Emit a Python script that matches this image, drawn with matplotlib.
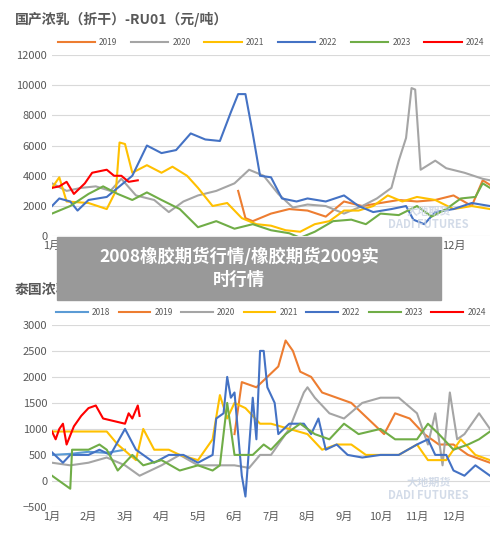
import matplotlib
matplotlib.use("Agg")
import matplotlib.pyplot as plt
from matplotlib.patches import Rectangle

plt.rcParams['font.family'] = ['Noto Sans CJK SC', 'DejaVu Sans']

months = ["1月", "2月", "3月", "4月", "5月", "6月", "7月", "8月", "9月", "10月", "11月", "12月"]
colors = {"2018": "#5B9BD5", "2019": "#ED7D31", "2020": "#A5A5A5", "2021": "#FFC000",
          "2022": "#4472C4", "2023": "#70AD47", "2024": "#FF0000"}

# 国产浓乳（折干）-RU01, x = 月份位置
ru_2019_x = [5.1, 5.3, 5.5, 6.0, 6.5, 7.0, 7.5, 8.0, 8.5, 9.0, 9.5, 10.0, 10.5, 11.0, 11.5, 11.8, 12]
ru_2019_y = [3000, 1200, 1000, 1500, 1800, 1700, 1300, 2300, 2000, 2200, 2400, 2300, 2400, 2700, 2000, 3700, 3400]
ru_2020_x = [0, 0.4, 0.8, 1.2, 1.6, 1.9, 2.3, 2.8, 3.2, 3.6, 4.0, 4.5, 5.0, 5.4, 5.8, 6.2, 6.6, 7.0, 7.5, 8.0,
             8.5, 8.9, 9.3, 9.5, 9.7, 9.85, 9.95, 10.1, 10.5, 10.8, 11.3, 11.8, 12]
ru_2020_y = [3500, 3000, 3200, 3300, 3000, 3800, 2700, 2400, 1600, 2300, 2700, 3000, 3500, 4400, 4000, 2800, 1900,
             2100, 2000, 1500, 2000, 2500, 3200, 5000, 6500, 9800, 9700, 4400, 5000, 4500, 4200, 3800, 3700]
ru_2021_x = [0, 0.2, 0.4, 1.0, 1.5, 1.75, 1.85, 2.0, 2.2, 2.6, 3.0, 3.3, 3.7, 4.0, 4.4, 4.8, 5.2, 5.6, 6.0, 6.4,
             6.8, 7.2, 7.6, 8.0, 8.4, 8.8, 9.2, 9.6, 10.0, 10.5, 11.0, 11.5, 12]
ru_2021_y = [3200, 3900, 2300, 2200, 1800, 3000, 6200, 6100, 4200, 4700, 4200, 4600, 4000, 3200, 2000, 2200, 1200,
             800, 700, 400, 300, 800, 1000, 1700, 1700, 2000, 2700, 2300, 2600, 2400, 1800, 2000, 1800]
ru_2022_x = [0, 0.2, 0.5, 0.7, 1.0, 1.5, 1.8, 2.2, 2.6, 3.0, 3.4, 3.8, 4.2, 4.6, 4.9, 5.1, 5.3, 5.5, 5.7, 6.0,
             6.3, 6.7, 7.0, 7.5, 8.0, 8.4, 8.8, 9.3, 9.7, 9.9, 10.2, 10.5, 11.0, 11.5, 12]
ru_2022_y = [2000, 2500, 2300, 1700, 2400, 2600, 3200, 4000, 6000, 5500, 5700, 6800, 6400, 6300, 8200, 9400, 9400,
             6800, 4000, 3900, 2500, 2300, 2500, 2300, 2700, 2000, 1600, 1800, 2000, 1100, 800, 1600, 1800, 2200, 2000]
ru_2023_x = [0, 0.5, 1.0, 1.4, 1.8, 2.2, 2.6, 3.0, 3.5, 4.0, 4.5, 5.0, 5.5, 6.0, 6.5, 6.8, 7.2, 7.7, 8.2, 8.6,
             9.0, 9.5, 10.0, 10.4, 10.8, 11.2, 11.6, 11.8, 12]
ru_2023_y = [1500, 2000, 2800, 3300, 2800, 2400, 2900, 2400, 1800, 600, 1000, 500, 800, 400, 200, -100, 300, 1000,
             1100, 800, 1500, 1400, 2000, 1300, 1800, 2500, 2600, 3500, 3200]
ru_2024_x = [0, 0.2, 0.4, 0.6, 0.9, 1.1, 1.5, 1.7, 1.9, 2.1, 2.35]
ru_2024_y = [3200, 3300, 3600, 2800, 3500, 4200, 4400, 4000, 4000, 3600, 3700]

# 泰国浓乳-国产浓乳
th_2018_x = [0, 0.5, 1.0, 1.5, 2.0]
th_2018_y = [500, 520, 560, 540, 600]
th_2019_x = [5.0, 5.2, 5.6, 5.9, 6.2, 6.4, 6.6, 6.8, 7.1, 7.4, 7.8, 8.2, 8.5, 8.8, 9.1, 9.4, 9.8, 10.2, 10.6,
             11.0, 11.4, 11.8, 12]
th_2019_y = [900, 1900, 1800, 2000, 2200, 2700, 2500, 2100, 2000, 1700, 1600, 1500, 1300, 1100, 900, 1300, 1200,
             900, 700, 700, 500, 400, 350]
th_2020_x = [0, 0.5, 1.0, 1.5, 2.0, 2.2, 2.4, 3.0, 3.5, 4.0, 4.5, 5.0, 5.4, 5.7, 6.0, 6.2, 6.5, 6.9, 7.0, 7.2,
             7.6, 8.0, 8.5, 9.0, 9.5, 10.0, 10.3, 10.5, 10.7, 10.9, 11.1, 11.3, 11.7, 12]
th_2020_y = [350, 300, 350, 450, 300, 200, 100, 300, 500, 300, 300, 300, 250, 500, 500, 700, 1000, 1700, 1800,
             1600, 1300, 1200, 1500, 1600, 1600, 1300, 700, 1300, 300, 1700, 800, 900, 1300, 1000]
th_2021_x = [0, 1.0, 1.5, 1.8, 2.3, 2.5, 2.8, 3.2, 3.5, 4.0, 4.4, 4.6, 4.8, 5.0, 5.3, 5.7, 6.0, 6.5, 7.0, 7.4,
             7.8, 8.2, 8.6, 9.0, 9.5, 10.0, 10.3, 10.8, 11.2, 11.6, 12]
th_2021_y = [950, 950, 950, 700, 400, 1000, 600, 600, 500, 400, 800, 1650, 1200, 1500, 1400, 1100, 1100, 1000,
             900, 600, 700, 700, 500, 500, 500, 700, 400, 400, 800, 500, 400]
th_2022_x = [0, 0.3, 0.5, 1.0, 1.3, 1.6, 2.0, 2.3, 2.8, 3.2, 3.6, 4.0, 4.4, 4.5, 4.7, 4.8, 4.9, 5.0, 5.2, 5.3,
             5.5, 5.6, 5.7, 5.8, 5.9, 6.1, 6.2, 6.5, 6.9, 7.1, 7.3, 7.5, 7.8, 8.1, 8.5, 9.0, 9.5, 10.0, 10.3,
             10.5, 10.8, 11.0, 11.3, 11.6, 12]
th_2022_y = [550, 350, 500, 500, 600, 500, 1000, 600, 350, 500, 500, 350, 500, 1200, 1300, 2000, 1600, 1700, 100,
             -300, 1600, 800, 2500, 2500, 1800, 1500, 900, 1100, 1100, 900, 1200, 600, 700, 500, 450, 500, 500,
             700, 800, 500, 500, 200, 100, 300, 100]
th_2023_x = [0, 0.3, 0.5, 0.55, 1.0, 1.3, 1.5, 1.8, 2.2, 2.5, 3.0, 3.5, 4.0, 4.4, 4.6, 4.8, 5.0, 5.5, 5.8, 6.0,
             6.4, 6.8, 7.2, 7.6, 8.0, 8.4, 9.0, 9.4, 10.0, 10.3, 10.6, 11.0, 11.4, 11.7, 12]
th_2023_y = [100, -50, -150, 600, 600, 700, 600, 200, 500, 300, 400, 200, 300, 200, 300, 1500, 500, 500, 700, 600,
             900, 1100, 900, 800, 1100, 900, 1000, 800, 800, 1100, 900, 600, 700, 800, 950]
th_2024_x = [0, 0.1, 0.2, 0.3, 0.4, 0.6, 0.8, 1.0, 1.2, 1.4, 1.7, 2.0, 2.1, 2.2, 2.35, 2.4]
th_2024_y = [950, 800, 1000, 1100, 700, 1050, 1250, 1400, 1450, 1200, 1150, 1100, 1300, 1200, 1450, 1250]

top_series = [("2019", ru_2019_x, ru_2019_y), ("2020", ru_2020_x, ru_2020_y), ("2021", ru_2021_x, ru_2021_y),
              ("2022", ru_2022_x, ru_2022_y), ("2023", ru_2023_x, ru_2023_y), ("2024", ru_2024_x, ru_2024_y)]
bot_series = [("2018", th_2018_x, th_2018_y), ("2019", th_2019_x, th_2019_y), ("2020", th_2020_x, th_2020_y),
              ("2021", th_2021_x, th_2021_y), ("2022", th_2022_x, th_2022_y), ("2023", th_2023_x, th_2023_y),
              ("2024", th_2024_x, th_2024_y)]

fig = plt.figure(figsize=(5, 5.37), dpi=100)
ax1 = fig.add_axes([0.104, 0.56, 0.876, 0.338])
ax2 = fig.add_axes([0.104, 0.056, 0.876, 0.339])


def style(ax, series, ylim, yticks, hl, cs):
    for name, xs, ys in series:
        ax.plot(xs, ys, color=colors[name], lw=1.5, label=name)
    ax.set_xlim(0, 12)
    ax.set_ylim(*ylim)
    ax.set_yticks(yticks)
    ax.set_xticks(range(12))
    ax.set_xticklabels(months)
    ax.grid(axis='y', color='#d9d9d9', lw=0.8)
    for s in ax.spines.values():
        s.set_visible(False)
    ax.tick_params(length=0, labelsize=8, colors='#595959')
    ax.legend(loc='lower center', bbox_to_anchor=(0.5, 1.0), ncol=len(series), frameon=False,
              fontsize=6, handlelength=hl, columnspacing=cs, handletextpad=0.5, labelcolor='#595959')
    ax.text(0.86, 0.1, "大地期货\nDADI FUTURES", transform=ax.transAxes, ha='center', va='center',
            fontsize=8, color='#c8d3e3', alpha=0.8, fontweight='bold', linespacing=1.0)


style(ax1, top_series, (0, 12000), range(0, 12001, 2000), 4.5, 1.6)
style(ax2, bot_series, (-500, 3000), range(-500, 3001, 500), 3.8, 1.0)

fig.text(0.03, 0.955, "国产浓乳（折干）-RU01（元/吨）", fontsize=10, fontweight='bold', color='#595959')
fig.text(0.03, 0.453, "泰国浓乳-国产浓乳（元/吨）", fontsize=10, fontweight='bold', color='#595959')

fig.patches.append(Rectangle((0.114, 0.441), 0.768, 0.118, transform=fig.transFigure,
                             color='#999999', zorder=10))
fig.text(0.478, 0.50, "2008橡胶期货行情/橡胶期货2009实\n时行情", ha='center', va='center',
         fontsize=12.5, fontweight='bold', color='white', zorder=11, linespacing=1.3)

fig.savefig("out.png", dpi=100)
